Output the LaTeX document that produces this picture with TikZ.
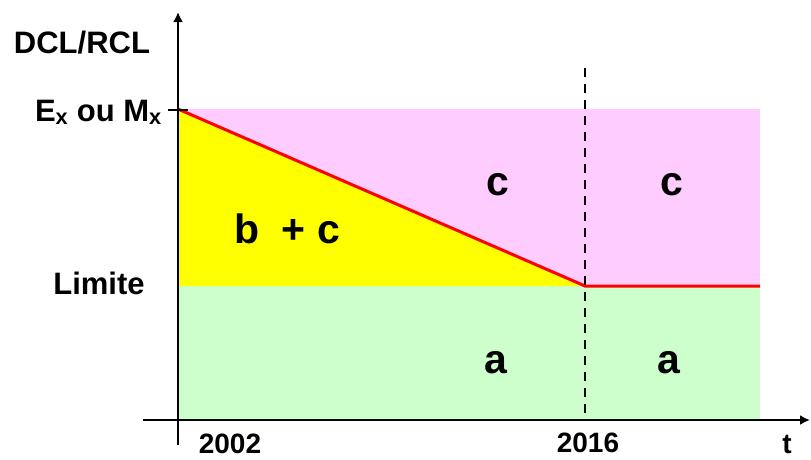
\documentclass[tikz,border=0pt]{standalone}
\usepackage{fontspec}
\setmainfont{Liberation Sans}
\usetikzlibrary{arrows.meta,positioning,calc}
\definecolor{rose}{RGB}{255,204,255}
\definecolor{vert}{RGB}{204,255,204}
\definecolor{jaune}{RGB}{255,255,0}
\tikzset{
  lbl/.style={font=\bfseries\fontsize{31}{31}\selectfont, inner sep=0pt},
  annee/.style={font=\bfseries\fontsize{28}{28}\selectfont, inner sep=0pt},
  zone/.style={font=\bfseries\fontsize{41}{41}\selectfont, inner sep=0pt},
  axe/.style={line width=2.8pt},
}
\begin{document}
\begin{tikzpicture}[x=1pt, y=-1pt]
\useasboundingbox (0,0) rectangle (811,459);
% points of the plot
\coordinate (E) at (178,109);
\coordinate (L) at (178,286);
\coordinate (T) at (585,286);
\coordinate (R) at (760,286);
% zones
\fill[rose] (E) rectangle (760,286);
\fill[vert] (L) rectangle (760,420);
\fill[jaune] (E) -- (T) -- (L) -- cycle;
\draw[red, line width=3pt] (E) -- (T) -- (R);
% 2016 marker
\coordinate (d0) at (585,68);
\coordinate (d1) at (585,420);
\draw[line width=2pt, dash pattern=on 9pt off 7pt] (d0) -- (d1);
% axes
\coordinate (xa) at (143,420);
\coordinate (xb) at (810,420);
\coordinate (ya) at (178,445);
\coordinate (yb) at (178,12);
\coordinate (ta) at (168,110);
\coordinate (tb) at (188,110);
\draw[axe, -{Latex[length=10pt,width=10pt]}] (xa) -- (xb);
\draw[axe, -{Latex[length=10pt,width=10pt]}] (ya) -- (yb);
\draw[axe] (ta) -- (tb);
% axis labels
\node[lbl, anchor=base] (dcl) at (82,53) {DCL/RCL};
\node[lbl, anchor=base east] (ex) at (162,121) {E\textsubscript{x} ou M\textsubscript{x}};
\node[lbl, anchor=base] (lim) at (99,294) {Limite};
\node[annee, anchor=base] (a02) at (230,453) {2002};
\node[annee, anchor=base] (a16) at (588,452) {2016};
\node[annee, anchor=base] (t) at (787,453) {t};
% zone labels
\node[zone, anchor=base] (bc) at (287,243) {b\ \ + c};
\node[zone, anchor=base] (c1) at (498,195) {c};
\node[zone, anchor=base] (c2) at (672,195) {c};
\node[zone, anchor=base] (a1) at (496,373) {a};
\node[zone, anchor=base] (a2) at (669,373) {a};
\end{tikzpicture}
\end{document}
